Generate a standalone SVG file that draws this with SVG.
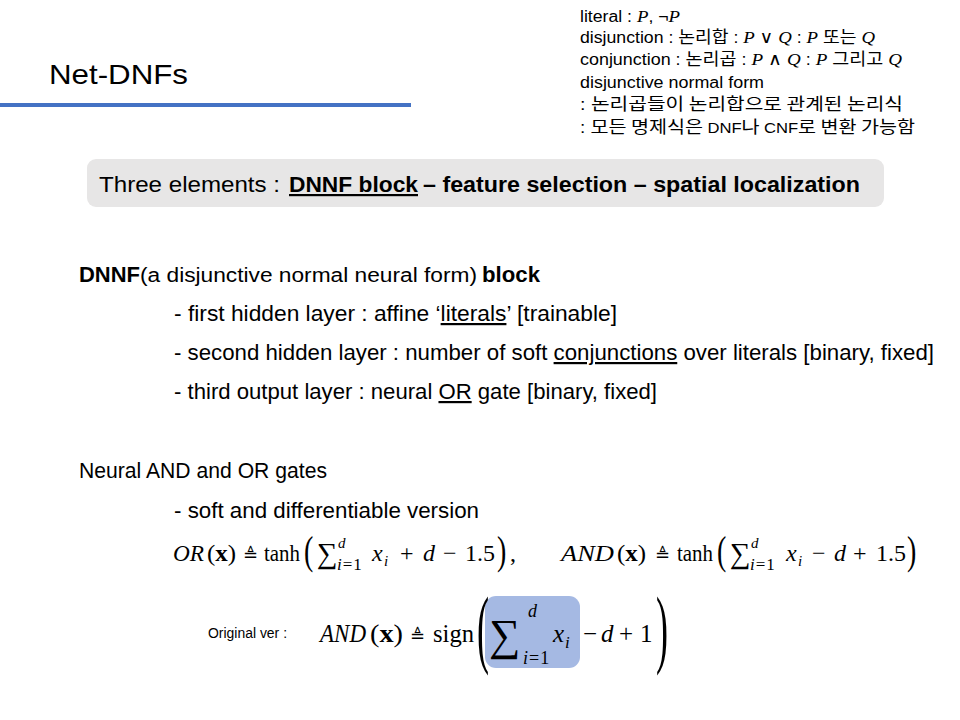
<svg xmlns="http://www.w3.org/2000/svg" width="960" height="720" viewBox="0 0 960 720">
<style>
.s{font-family:"Liberation Sans",Arial,sans-serif;fill:#000}
.b{font-weight:bold}
.u{text-decoration:underline}
.m{font-family:"Liberation Serif","DejaVu Serif",serif;fill:#000}
.i{font-style:italic}
.k{font-family:"Noto Sans CJK KR","Liberation Sans",sans-serif;font-size:16.5px}
.op{font-family:"DejaVu Sans",sans-serif;fill:#000}
</style>
<rect width="960" height="720" fill="#fff"/>

<g id="title">
  <text class="s" x="49" y="84" font-size="28" textLength="139" lengthAdjust="spacingAndGlyphs">Net-DNFs</text>
  <rect x="0" y="103" width="411" height="4" fill="#4472C4"/>
</g>

<g id="notes" class="s" font-size="16">
  <text x="580" y="22" textLength="100" lengthAdjust="spacingAndGlyphs">literal : <tspan class="m i" font-size="17">P</tspan>, ¬<tspan class="m i" font-size="17">P</tspan></text>
  <text x="580" y="43" textLength="295" lengthAdjust="spacingAndGlyphs">disjunction : <tspan class="k">논리합</tspan> : <tspan class="m i" font-size="17">P</tspan> <tspan class="m" font-size="17">∨</tspan> <tspan class="m i" font-size="17">Q</tspan> : <tspan class="m i" font-size="17">P</tspan> <tspan class="k">또는</tspan> <tspan class="m i" font-size="17">Q</tspan></text>
  <text x="580" y="65" textLength="322" lengthAdjust="spacingAndGlyphs">conjunction : <tspan class="k">논리곱</tspan> : <tspan class="m i" font-size="17">P</tspan> <tspan class="m" font-size="17">∧</tspan> <tspan class="m i" font-size="17">Q</tspan> : <tspan class="m i" font-size="17">P</tspan> <tspan class="k">그리고</tspan> <tspan class="m i" font-size="17">Q</tspan></text>
  <text x="580" y="88" textLength="184" lengthAdjust="spacingAndGlyphs">disjunctive normal form</text>
  <text x="580" y="110" textLength="323" lengthAdjust="spacingAndGlyphs">: <tspan class="k">논리곱들이 논리합으로 관계된 논리식</tspan></text>
  <text x="580" y="133" textLength="335" lengthAdjust="spacingAndGlyphs">: <tspan class="k">모든 명제식은 </tspan><tspan font-size="14">DNF</tspan><tspan class="k">나 </tspan><tspan font-size="14">CNF</tspan><tspan class="k">로 변환 가능함</tspan></text>
</g>

<g id="elements-box">
  <rect x="87" y="159" width="797" height="48" rx="9" fill="#E7E6E6"/>
  <text class="s" x="99" y="192" font-size="22" textLength="181" lengthAdjust="spacingAndGlyphs">Three elements :</text>
  <text class="s b u" x="289" y="192" font-size="22" textLength="129" lengthAdjust="spacingAndGlyphs">DNNF block</text>
  <text class="s b" x="423" y="192" font-size="22" textLength="437" lengthAdjust="spacingAndGlyphs">– feature selection – spatial localization</text>
</g>

<g id="dnnf-block" class="s">
  <text class="b" x="79" y="282" font-size="22" textLength="61" lengthAdjust="spacingAndGlyphs">DNNF</text>
  <text x="140" y="282" font-size="20" textLength="337" lengthAdjust="spacingAndGlyphs">(a disjunctive normal neural form)</text>
  <text class="b" x="482" y="282" font-size="22" textLength="58" lengthAdjust="spacingAndGlyphs">block</text>
  <text x="174" y="321" font-size="22" textLength="443" lengthAdjust="spacingAndGlyphs">- first hidden layer : affine ‘<tspan class="u">literals</tspan>’ [trainable]</text>
  <text x="174" y="360" font-size="22" textLength="760" lengthAdjust="spacingAndGlyphs">- second hidden layer : number of soft <tspan class="u">conjunctions</tspan> over literals [binary, fixed]</text>
  <text x="174" y="399" font-size="22" textLength="483" lengthAdjust="spacingAndGlyphs">- third output layer : neural <tspan class="u">OR</tspan> gate [binary, fixed]</text>
</g>

<g id="gates" class="s">
  <text x="79" y="478" font-size="22" textLength="248" lengthAdjust="spacingAndGlyphs">Neural AND and OR gates</text>
  <text x="174" y="518" font-size="22" textLength="305" lengthAdjust="spacingAndGlyphs">- soft and differentiable version</text>
</g>

<g id="formula-or" class="m" font-size="24">
  <text class="i" x="173" y="561" textLength="31" lengthAdjust="spacingAndGlyphs">OR</text>
  <text x="207" y="561" textLength="29" lengthAdjust="spacingAndGlyphs">(<tspan class="b">x</tspan>)</text>
  <text class="op" x="243" y="561" font-size="18">≜</text>
  <text x="264" y="561" textLength="36" lengthAdjust="spacingAndGlyphs">tanh</text>
  <text transform="translate(304,564) scale(0.7,1)" font-size="40">(</text>
  <text x="317" y="563" font-size="29">∑</text>
  <text class="i" x="338" y="548" font-size="15">d</text>
  <text x="337" y="570" font-size="17" letter-spacing="1"><tspan class="i">i</tspan>=1</text>
  <text class="i" x="372" y="561">x</text>
  <text class="i" x="384" y="566" font-size="15">i</text>
  <text x="400" y="561">+</text>
  <text class="i" x="423" y="561">d</text>
  <text x="443" y="561">−</text>
  <text x="465" y="561">1.5</text>
  <text transform="translate(497,564) scale(0.7,1)" font-size="40">)</text>
  <text x="510" y="561">,</text>
</g>

<g id="formula-and" class="m" font-size="24">
  <text class="i" x="561" y="561" textLength="53" lengthAdjust="spacingAndGlyphs">AND</text>
  <text x="617" y="561" textLength="29" lengthAdjust="spacingAndGlyphs">(<tspan class="b">x</tspan>)</text>
  <text class="op" x="655" y="561" font-size="18">≜</text>
  <text x="677" y="561" textLength="36" lengthAdjust="spacingAndGlyphs">tanh</text>
  <text transform="translate(717,564) scale(0.7,1)" font-size="40">(</text>
  <text x="730" y="563" font-size="29">∑</text>
  <text class="i" x="751" y="548" font-size="15">d</text>
  <text x="750" y="570" font-size="17" letter-spacing="1"><tspan class="i">i</tspan>=1</text>
  <text class="i" x="786" y="561">x</text>
  <text class="i" x="798" y="566" font-size="15">i</text>
  <text x="812" y="561">−</text>
  <text class="i" x="834" y="561">d</text>
  <text x="853" y="561">+</text>
  <text x="876" y="561">1.5</text>
  <text transform="translate(907,564) scale(0.7,1)" font-size="40">)</text>
</g>

<g id="formula-original">
  <text class="s" x="208" y="638" font-size="14" textLength="79" lengthAdjust="spacingAndGlyphs">Original ver :</text>
  <rect x="485" y="596" width="95" height="72" rx="11" fill="#A5B9E3"/>
  <g class="m" font-size="25">
    <text class="i" x="320" y="642" textLength="46" lengthAdjust="spacingAndGlyphs">AND</text>
    <text x="370" y="642" textLength="33" lengthAdjust="spacingAndGlyphs">(<tspan class="b">x</tspan>)</text>
    <text class="op" x="410" y="642" font-size="18">≜</text>
    <text x="433" y="642" textLength="41" lengthAdjust="spacingAndGlyphs">sign</text>
    <text transform="translate(477,657) scale(0.42,1)" font-size="86">(</text>
    <text x="489" y="650" font-size="44">∑</text>
    <text class="i" x="528" y="617" font-size="18">d</text>
    <text x="523" y="664" font-size="18" letter-spacing="1"><tspan class="i">i</tspan>=1</text>
    <text class="i" x="553" y="642">x</text>
    <text class="i" x="565" y="648" font-size="17">i</text>
    <text x="583" y="642">−</text>
    <text class="i" x="601" y="642">d</text>
    <text x="619" y="642">+</text>
    <text x="640" y="642">1</text>
    <text transform="translate(656,657) scale(0.42,1)" font-size="86">)</text>
  </g>
</g>
</svg>
